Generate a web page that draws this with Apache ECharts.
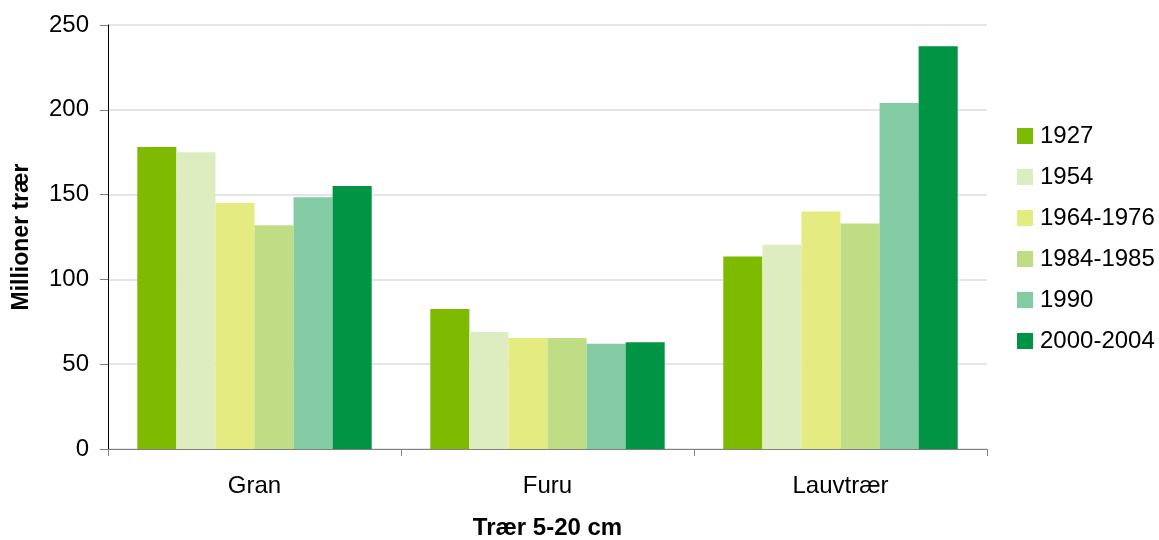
<!DOCTYPE html>
<html>
<head>
<meta charset="utf-8">
<script src="https://cdn.jsdelivr.net/npm/echarts@6/dist/echarts.min.js"></script>
<style>
  html, body { margin: 0; padding: 0; background: #ffffff; }
  #chart { width: 1159px; height: 540px; }
</style>
</head>
<body>
<div id="chart"></div>
<script>
// Number of trees 5-20 cm, in millions, by species group and survey period
const categories = ['Gran', 'Furu', 'Lauvtrær'];
const periods = ['1927', '1954', '1964-1976', '1984-1985', '1990', '2000-2004'];

const v1927 = [178, 82.5, 113.5];
const v1954 = [175, 69, 120.5];
const v1964 = [145, 65.5, 140];
const v1984 = [132, 65.5, 133];
const v1990 = [148.5, 62, 204];
const v2000 = [155, 63, 237.5];

const periodValues = [v1927, v1954, v1964, v1984, v1990, v2000];
const periodColors = ['#7EBA00', '#DEEDC0', '#E3EB81', '#BEDD85', '#83CBA3', '#009444'];

const yTicks = { min: 0, max: 250, interval: 50 };

const font = 'Liberation Sans, Arial, sans-serif';

const chart = echarts.init(document.getElementById('chart'), null, { renderer: 'canvas' });

chart.setOption({
  animation: false,
  backgroundColor: '#ffffff',
  textStyle: { fontFamily: font, color: '#000000' },
  grid: { left: 108, right: 172, top: 25, bottom: 91, containLabel: false, outerBoundsMode: 'none' },
  legend: {
    orient: 'vertical',
    left: 1017,
    top: 124,
    padding: 0,
    itemWidth: 16,
    itemHeight: 16,
    itemGap: 17,
    icon: 'rect',
    textStyle: { fontFamily: font, fontSize: 24, color: '#000000', padding: [0, 0, 0, 2] },
    data: periods
  },
  xAxis: {
    type: 'category',
    data: categories,
    name: 'Trær 5-20 cm',
    nameLocation: 'middle',
    nameGap: 67,
    nameTextStyle: { fontFamily: font, fontSize: 24, fontWeight: 'bold', color: '#000000' },
    axisLine: { show: true, lineStyle: { color: '#808080', width: 1 } },
    axisTick: { show: true, length: 7, lineStyle: { color: '#808080' } },
    axisLabel: { fontFamily: font, fontSize: 24, color: '#000000', margin: 25 },
    splitLine: { show: false },
    z: 10
  },
  yAxis: {
    type: 'value',
    min: yTicks.min,
    max: yTicks.max,
    interval: yTicks.interval,
    name: 'Millioner trær',
    nameLocation: 'middle',
    nameGap: 75,
    nameRotate: 90,
    nameTextStyle: { fontFamily: font, fontSize: 23, fontWeight: 'bold', color: '#000000' },
    axisLine: { show: true, lineStyle: { color: '#000000', width: 1 } },
    axisTick: { show: true, length: 8, lineStyle: { color: '#808080' } },
    axisLabel: { fontFamily: font, fontSize: 24, color: '#000000', margin: 19 },
    splitLine: { show: true, lineStyle: { color: '#dcdcdc', width: 1.5 } }
  },
  series: periods.map((p, i) => ({
    name: p,
    type: 'bar',
    data: periodValues[i],
    barGap: '0%',
    barCategoryGap: '20%',
    itemStyle: { color: periodColors[i] }
  }))
});
</script>
</body>
</html>
